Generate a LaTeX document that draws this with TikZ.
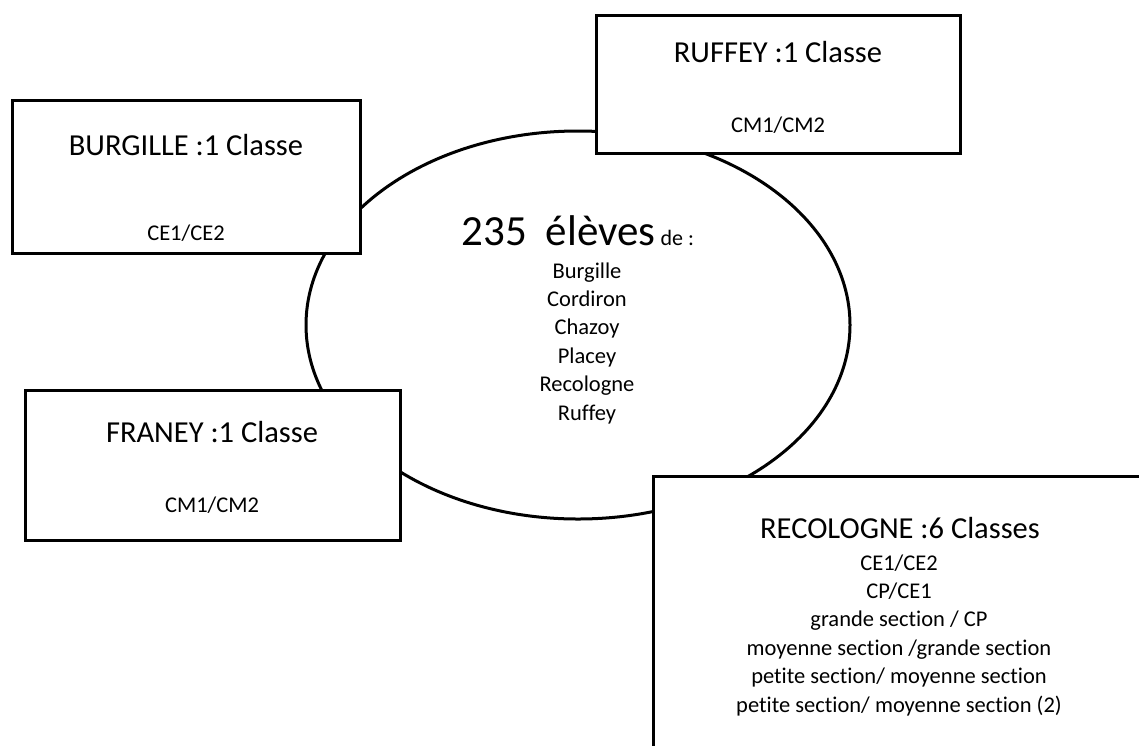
\documentclass[tikz,border=0pt]{standalone}
\usepackage{fontspec}
\setmainfont[Ligatures=NoCommon]{Carlito}
\usetikzlibrary{shapes.geometric}

\begin{document}
\begin{tikzpicture}[x=1pt,y=-1pt,
    trait/.style={line width=3pt},
    ecole/.style={draw, trait, fill=white, rectangle, inner sep=0pt},
    titre/.style={anchor=base, font=\fontsize{30.5}{36}\selectfont},
    classe/.style={anchor=base, font=\fontsize{22.5}{28}\selectfont}]

    \useasboundingbox (0,0) rectangle (1139,745);
    \clip (0,0) rectangle (1139,745);

    % le regroupement au centre
    \node[draw, trait, ellipse, inner sep=0pt, minimum width=544pt, minimum height=388pt] (rpi) at (578,325) {};
    \node[anchor=base west, font=\fontsize{43}{50}\selectfont] (total) at (458,245)
        {235\hspace{19pt}élèves{\fontsize{22}{26}\selectfont\ de :}};
    \foreach \village [count=\i] in {Burgille, Cordiron, Chazoy, Placey, Recologne, Ruffey}
    \node[classe] (village\i) at (587,{249.6+28.4*\i}) {\village};

    % les ecoles
    \node[ecole, minimum width=348pt, minimum height=153pt] (burgille) at (186,176.5) {};
    \node[titre] (burgilleT) at (186,155) {BURGILLE :1 Classe};
    \node[classe] (burgilleC) at (186,240) {CE1/CE2};

    \node[ecole, minimum width=364pt, minimum height=138pt] (ruffey) at (778,84) {};
    \node[titre] (ruffeyT) at (778,62) {RUFFEY :1 Classe};
    \node[classe] (ruffeyC) at (778,132) {CM1/CM2};

    \node[ecole, minimum width=375pt, minimum height=150pt] (franey) at (212.5,465) {};
    \node[titre] (franeyT) at (212,442) {FRANEY :1 Classe};
    \node[classe] (franeyC) at (212,512) {CM1/CM2};

    \node[ecole, minimum width=547pt, minimum height=324pt] (recologne) at (926.5,638) {};
    \node[titre] (recologneT) at (900,538) {RECOLOGNE :6 Classes};
    \foreach \niveau [count=\i] in {{CE1/CE2}, {CP/CE1}, {grande section / CP},
        {moyenne section /grande section}, {petite section/ moyenne section},
        {petite section/ moyenne section (2)}}
    \node[classe] (recologne\i) at (899,{541.6+28.4*\i}) {\niveau};

\end{tikzpicture}
\end{document}
